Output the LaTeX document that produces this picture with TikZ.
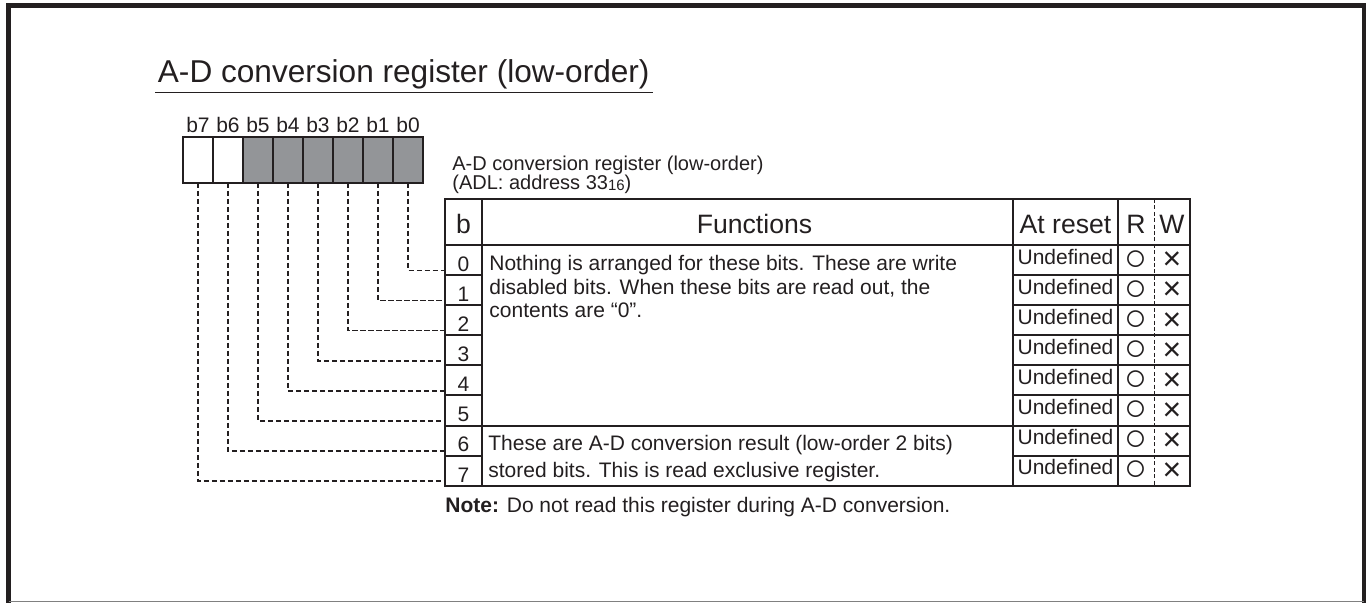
\documentclass[tikz,border=0pt]{standalone}
\usepackage{fontspec}
\setmainfont{Liberation Sans}
\usepackage{xcolor}
\usetikzlibrary{positioning,calc}

\definecolor{ink}{HTML}{231F20}
\definecolor{bitgray}{HTML}{939598}
\newcommand{\rwmarks}{\makebox[18pt]{\fontsize{19}{20}\selectfont\raisebox{0.4pt}{○}}\makebox[18pt]{\fontsize{16}{18}\selectfont\raisebox{0.6pt}{×}}}

\begin{document}
\begin{tikzpicture}[
    x=0.5pt, y=-0.5pt,
    every node/.style={text=ink},
    label distance=2pt,
    body/.style={font=\fontsize{10.5}{11.75}\selectfont},
    bitbox/.style={draw=ink, line width=1pt, inner sep=0pt, outer sep=0pt, anchor=north west, minimum width=15pt, minimum height=23pt},
    bitlabel/.style={body, inner sep=0pt},
    cell/.style={draw=ink, line width=1pt, inner sep=0pt, outer sep=0pt, anchor=north west, minimum height=15.05pt, body},
    headcell/.style={cell, minimum height=23pt, font=\fontsize{13.3}{15}\selectfont, text height=12pt, text depth=0pt},
    numcell/.style={cell, minimum width=18.5pt, text height=11.3pt, text depth=0pt},
    fncell/.style={cell, minimum width=265.5pt},
    rstcell/.style={cell, minimum width=52.5pt, text height=4pt, text depth=0pt},
    rwcell/.style={cell, minimum width=36pt, text height=11pt, text depth=0pt},
    leader/.style={ink, line width=0.8pt, dash pattern=on 2.6pt off 1.4pt},
    divider/.style={ink, line width=0.5pt, dash pattern=on 2pt off 1.2pt}
]
\useasboundingbox (0,0) rectangle (1366,603);

% page frame
\draw[ink, line width=2.5pt] (8.5,603) -- (8.5,5.5) -- (1364,5.5) -- (1364,603);
\draw[gray, line width=0.5pt] (8.5,602) -- (1364,602);

% title
\node[anchor=base west, inner sep=0pt, font=\fontsize{15.8}{18}\selectfont] (title) at (157.5,83) {A-D conversion register (low-order)};
\draw[ink, line width=0.5pt] (155,92.5) -- (653,92.5);

% register bits
\node[bitbox, fill=white, label={[bitlabel]above:b7}] (b7) at (183,137) {};
\node[bitbox, fill=white, label={[bitlabel]above:b6}] (b6) at (213,137) {};
\node[bitbox, fill=bitgray, label={[bitlabel]above:b5}] (b5) at (243,137) {};
\node[bitbox, fill=bitgray, label={[bitlabel]above:b4}] (b4) at (273,137) {};
\node[bitbox, fill=bitgray, label={[bitlabel]above:b3}] (b3) at (303,137) {};
\node[bitbox, fill=bitgray, label={[bitlabel]above:b2}] (b2) at (333,137) {};
\node[bitbox, fill=bitgray, label={[bitlabel]above:b1}] (b1) at (363,137) {};
\node[bitbox, fill=bitgray, label={[bitlabel]above:b0}] (b0) at (393,137) {};

\node[anchor=base west, inner sep=0pt, font=\fontsize{10}{11}\selectfont] (regname) at (452,170.5) {A-D conversion register (low-order)};
\node[anchor=base west, inner sep=0pt, font=\fontsize{10}{11}\selectfont] (regaddr) at (452,189.5) {(ADL: address 33\raisebox{-0.4pt}{\fontsize{7.5}{8}\selectfont 16})};

% table header
\node[headcell, minimum width=18.5pt] (hb) at (445,199) {b};
\node[headcell, minimum width=265.5pt] (hfn) at (482,199) {\hspace{7pt}Functions};
\node[headcell, minimum width=52.5pt] (hrst) at (1013,199) {At reset};
\node[headcell, minimum width=36pt] (hrw) at (1118,199) {\makebox[18pt]{R}\makebox[18pt]{W}};

% bit number column
\node[numcell] (n0) at (445,245) {0};
\node[numcell] (n1) at (445,275.1) {1};
\node[numcell] (n2) at (445,305.2) {2};
\node[numcell] (n3) at (445,335.3) {3};
\node[numcell] (n4) at (445,365.4) {4};
\node[numcell] (n5) at (445,395.5) {5};
\node[numcell] (n6) at (445,425.6) {6};
\node[numcell] (n7) at (445,455.7) {7};

% functions column
\node[fncell, minimum height=90.3pt] (fn1) at (482,245) {};
\node[fncell, minimum height=30.1pt] (fn2) at (482,425.6) {};
\node[anchor=base west, inner sep=0pt, align=left, font=\fontsize{10.5}{11.75}\selectfont] (fntxt1) at (489,318) {Nothing is arranged for these bits. These are write\\disabled bits. When these bits are read out, the\\contents are “0”.};
\node[anchor=base west, inner sep=0pt, align=left, font=\fontsize{10.5}{13.5}\selectfont] (fntxt2) at (488,477.5) {These are A-D conversion result (low-order 2 bits)\\stored bits. This is read exclusive register.};

% at reset column
\node[rstcell] (u0) at (1013,245) {Undefined};
\node[rstcell] (u1) at (1013,275.1) {Undefined};
\node[rstcell] (u2) at (1013,305.2) {Undefined};
\node[rstcell] (u3) at (1013,335.3) {Undefined};
\node[rstcell] (u4) at (1013,365.4) {Undefined};
\node[rstcell] (u5) at (1013,395.5) {Undefined};
\node[rstcell] (u6) at (1013,425.6) {Undefined};
\node[rstcell] (u7) at (1013,455.7) {Undefined};

% R / W column
\node[rwcell] (rw0) at (1118,245) {\rwmarks};
\node[rwcell] (rw1) at (1118,275.1) {\rwmarks};
\node[rwcell] (rw2) at (1118,305.2) {\rwmarks};
\node[rwcell] (rw3) at (1118,335.3) {\rwmarks};
\node[rwcell] (rw4) at (1118,365.4) {\rwmarks};
\node[rwcell] (rw5) at (1118,395.5) {\rwmarks};
\node[rwcell] (rw6) at (1118,425.6) {\rwmarks};
\node[rwcell] (rw7) at (1118,455.7) {\rwmarks};
\draw[divider] (hrw.north) -- (rw7.south);

% leader lines from bits to rows
\coordinate (t0) at (445,270.5);
\coordinate (t1) at (445,300.6);
\coordinate (t2) at (445,330.7);
\coordinate (t3) at (445,360.8);
\coordinate (t4) at (445,390.9);
\coordinate (t5) at (445,421);
\coordinate (t6) at (445,451.1);
\coordinate (t7) at (445,481.2);
\draw[leader] (b0.south) |- (t0);
\draw[leader] (b1.south) |- (t1);
\draw[leader] (b2.south) |- (t2);
\draw[leader] (b3.south) |- (t3);
\draw[leader] (b4.south) |- (t4);
\draw[leader] (b5.south) |- (t5);
\draw[leader] (b6.south) |- (t6);
\draw[leader] (b7.south) |- (t7);

\node[body, anchor=base west, inner sep=0pt] (note) at (445,512.5) {\textbf{Note:} Do not read this register during A-D conversion.};

\end{tikzpicture}
\end{document}
